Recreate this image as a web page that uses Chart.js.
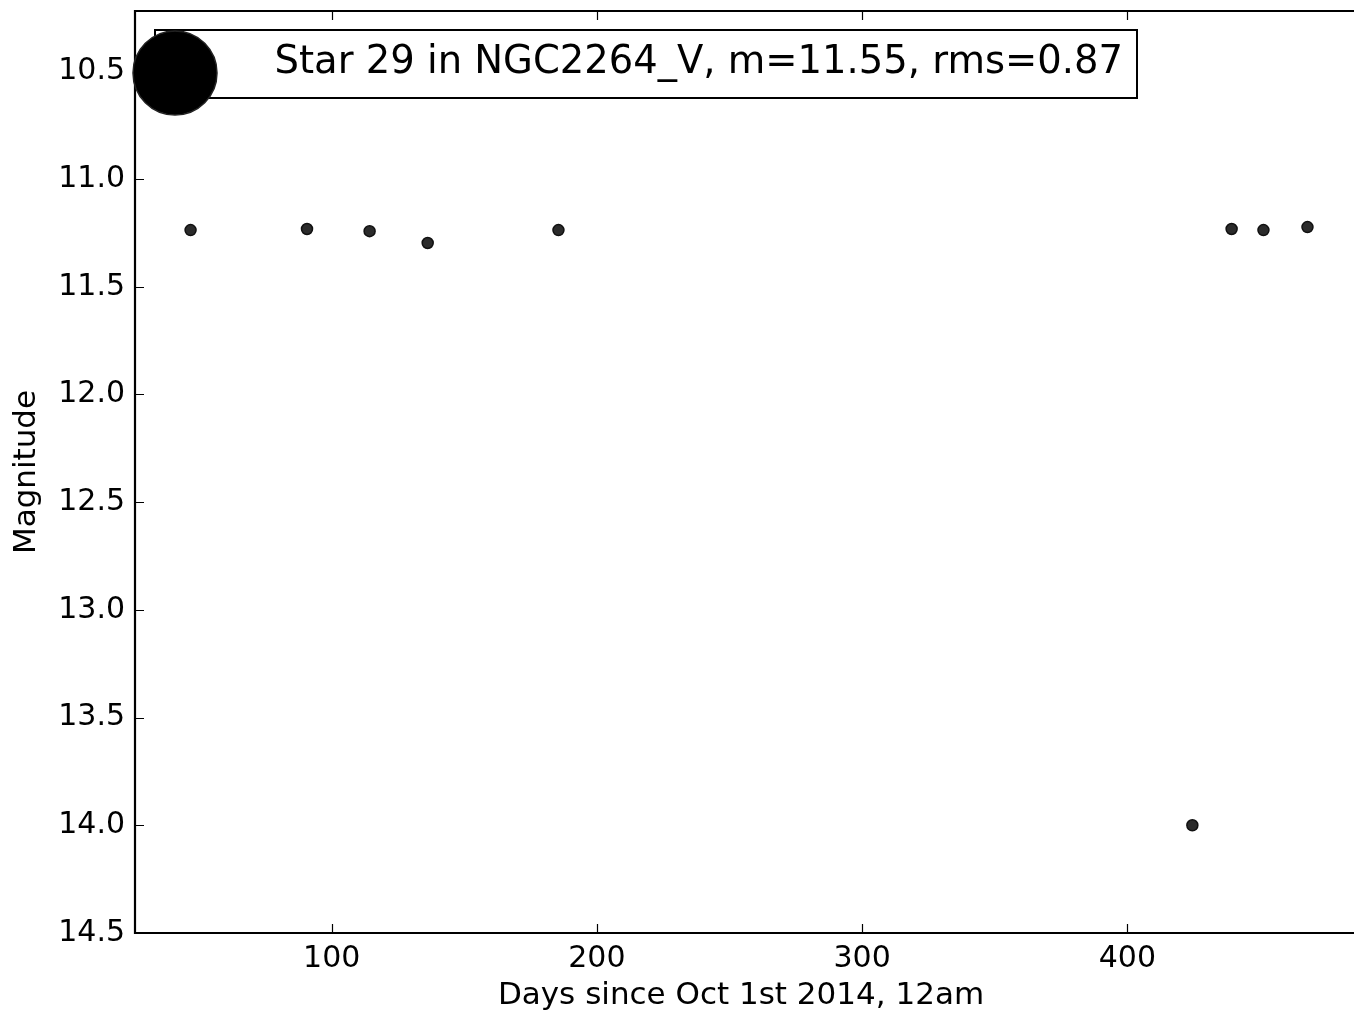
<!DOCTYPE html>
<html>
<head>
<meta charset="utf-8">
<script src="https://cdn.jsdelivr.net/npm/chart.js@4"></script>
<style>
  body { margin: 0; background: #fff; }
  canvas { display: block; }
</style>
</head>
<body>
<canvas id="curva" width="1354" height="1013"></canvas>
<script>
// datos
const dias = [46.8, 90.7, 114.3, 136.2, 185.5, 424.5, 439.3, 451.3, 467.9];
const magnitudes = [11.237, 11.232, 11.242, 11.297, 11.237, 14.0, 11.232, 11.237, 11.223];
const ticksX = [100, 200, 300, 400];
const ticksY = [10.5, 11.0, 11.5, 12.0, 12.5, 13.0, 13.5, 14.0, 14.5];
const leyenda = 'Star 29 in NGC2264_V, m=11.55, rms=0.87';

const fuente = 'DejaVu Sans';
Chart.defaults.font.family = fuente;
Chart.defaults.color = '#000';

function sinPadding(s) {
    s.paddingTop = 0;
    s.paddingBottom = 0;
    s.paddingLeft = 0;
    s.paddingRight = 0;
}

// marco y ticks hacia adentro, estilo matplotlib
const marco = {
    id: 'marco',
    afterDraw(chart) {
        const ctx = chart.ctx;
        const a = chart.chartArea;
        const sx = chart.scales.x;
        const sy = chart.scales.y;
        ctx.save();
        ctx.strokeStyle = '#000';
        ctx.lineWidth = 1.2;
        ctx.beginPath();
        ticksX.forEach(v => {
            const px = Math.round(sx.getPixelForValue(v)) + 0.5;
            ctx.moveTo(px, a.top); ctx.lineTo(px, a.top + 9);
            ctx.moveTo(px, a.bottom); ctx.lineTo(px, a.bottom - 9);
        });
        ticksY.forEach(v => {
            const py = Math.round(sy.getPixelForValue(v)) + 0.5;
            ctx.moveTo(a.left, py); ctx.lineTo(a.left + 9, py);
        });
        ctx.stroke();
        ctx.lineWidth = 2.2;
        ctx.beginPath();
        ctx.moveTo(a.right + 10, a.top);
        ctx.lineTo(a.left, a.top);
        ctx.lineTo(a.left, a.bottom);
        ctx.lineTo(a.right + 10, a.bottom);
        ctx.stroke();

        // leyenda
        ctx.fillStyle = '#fff';
        ctx.fillRect(155, 30, 982, 68);
        ctx.lineWidth = 2;
        ctx.strokeRect(155, 30, 982, 68);
        ctx.beginPath();
        ctx.arc(175, 73, 42, 0, Math.PI * 2);
        ctx.fillStyle = '#000';
        ctx.fill();
        ctx.strokeStyle = '#222';
        ctx.lineWidth = 1.5;
        ctx.stroke();
        ctx.fillStyle = '#000';
        ctx.font = '38.5px "' + fuente + '"';
        ctx.textAlign = 'right';
        ctx.textBaseline = 'middle';
        ctx.fillText(leyenda, 1123, 63);
        ctx.restore();
    }
};

new Chart(document.getElementById('curva'), {
    type: 'scatter',
    data: {
        datasets: [{
            label: leyenda,
            data: dias.map((d, i) => ({ x: d, y: magnitudes[i] })),
            backgroundColor: '#2b2b2b',
            borderColor: '#111',
            borderWidth: 1.5,
            pointRadius: 5.5
        }]
    },
    options: {
        responsive: false,
        animation: false,
        layout: { padding: { top: 11, right: 0, left: 0, bottom: 0 } },
        plugins: {
            legend: { display: false },
            tooltip: { enabled: false }
        },
        scales: {
            x: {
                type: 'linear',
                min: 25.85,
                max: 482.8,
                afterFit: s => { s.height = 80; sinPadding(s); },
                afterBuildTicks: s => { s.ticks = ticksX.map(v => ({ value: v })); },
                grid: { display: false, drawTicks: false },
                border: { display: false },
                ticks: { font: { size: 30 }, padding: 8, maxRotation: 0 },
                title: {
                    display: true,
                    text: 'Days since Oct 1st 2014, 12am',
                    font: { size: 31 },
                    padding: { top: 0, bottom: -2 }
                }
            },
            y: {
                type: 'linear',
                reverse: true,
                min: 10.22,
                max: 14.5,
                afterFit: s => { s.width = 135; sinPadding(s); },
                afterBuildTicks: s => { s.ticks = ticksY.map(v => ({ value: v })); },
                grid: { display: false, drawTicks: false },
                border: { display: false },
                ticks: {
                    font: { size: 30 },
                    padding: 10,
                    callback: v => Number(v).toFixed(1)
                },
                title: {
                    display: true,
                    text: 'Magnitude',
                    font: { size: 31 },
                    padding: { top: 8, bottom: 0 }
                }
            }
        }
    },
    plugins: [marco]
});
</script>
</body>
</html>
